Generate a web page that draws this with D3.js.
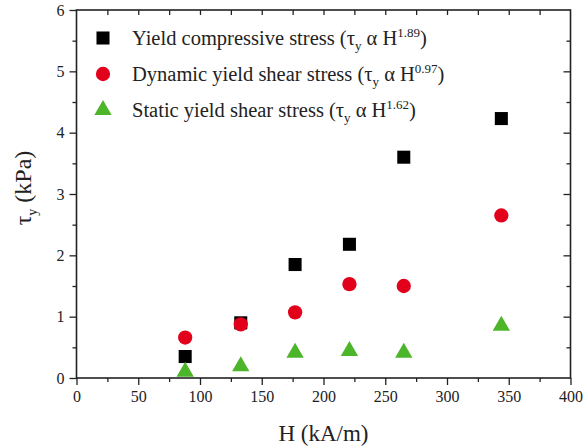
<!DOCTYPE html>
<html>
<head>
<meta charset="utf-8">
<script src="https://cdn.jsdelivr.net/npm/d3@7"></script>
<style>
  body { margin: 0; background: #fff; }
  svg { display: block; font-family: "Liberation Serif", "Times New Roman", serif; }
</style>
</head>
<body>
<svg id="chart"></svg>
<script>
const width = 583;
const height = 448;

// data
const fieldH = [88, 133, 177, 221, 265, 344];
const compressive = [0.35, 0.90, 1.85, 2.18, 3.60, 4.23];
const dynamicShear = [0.66, 0.875, 1.07, 1.53, 1.50, 2.65];
const staticShear = [0.10, 0.19, 0.41, 0.44, 0.41, 0.85];

const seriesNames = ["Yield compressive stress", "Dynamic yield shear stress", "Static yield shear stress"];
const exponents = ["1.89", "0.97", "1.62"];
const colors = ["#000000", "#e2001a", "#4cb52a"];
const xTicks = [0, 50, 100, 150, 200, 250, 300, 350, 400];
const yTicks = [0, 1, 2, 3, 4, 5, 6];

const margin = {top: 10, right: 12.5, bottom: 70, left: 76.5};

const x = d3.scaleLinear([0, 400], [margin.left, width - margin.right]);
const y = d3.scaleLinear([0, 6], [height - margin.bottom, margin.top]);

const svg = d3.select("#chart")
  .attr("width", width)
  .attr("height", height)
  .attr("viewBox", [0, 0, width, height]);

const axisColor = "#222";
const serif = "'Liberation Serif', 'Times New Roman', serif";

// minor ticks first, then major with labels
function styleAxis(g) {
  g.attr("font-family", serif);
  g.select(".domain").remove();
  g.selectAll("line").attr("stroke", axisColor).attr("stroke-width", 1.3);
  g.selectAll("text").attr("fill", "#222").attr("font-size", 16);
}

// bottom axis (outward)
svg.append("g")
  .attr("transform", `translate(0,${y(0)})`)
  .call(d3.axisBottom(x).tickValues(d3.range(25, 400, 50)).tickSize(4).tickFormat(""))
  .call(styleAxis);
svg.append("g")
  .attr("transform", `translate(0,${y(0)})`)
  .call(d3.axisBottom(x).tickValues(xTicks).tickSize(7).tickPadding(6).tickFormat(d3.format("d")))
  .call(styleAxis);

// top axis (inward)
svg.append("g")
  .attr("transform", `translate(0,${y(6)})`)
  .call(d3.axisBottom(x).tickValues(d3.range(25, 400, 25)).tickSize(5).tickFormat(""))
  .call(styleAxis);

// left axis (outward)
svg.append("g")
  .attr("transform", `translate(${x(0)},0)`)
  .call(d3.axisLeft(y).tickValues(d3.range(0.5, 6, 1)).tickSize(4).tickFormat(""))
  .call(styleAxis);
svg.append("g")
  .attr("transform", `translate(${x(0)},0)`)
  .call(d3.axisLeft(y).tickValues(yTicks).tickSize(7).tickPadding(5).tickFormat(d3.format("d")))
  .call(styleAxis);

// right axis (inward)
svg.append("g")
  .attr("transform", `translate(${x(400)},0)`)
  .call(d3.axisLeft(y).tickValues(d3.range(0.5, 6, 1)).tickSize(4).tickFormat(""))
  .call(styleAxis);
svg.append("g")
  .attr("transform", `translate(${x(400)},0)`)
  .call(d3.axisLeft(y).tickValues(yTicks.slice(1, 6)).tickSize(7).tickFormat(""))
  .call(styleAxis);

// frame
svg.append("rect")
  .attr("x", x(0))
  .attr("y", y(6))
  .attr("width", x(400) - x(0))
  .attr("height", y(0) - y(6))
  .attr("fill", "none")
  .attr("stroke", axisColor)
  .attr("stroke-width", 1.6);

// markers
const symbols = [
  d3.symbol(d3.symbolSquare, 170),
  d3.symbol(d3.symbolCircle, 160),
  d3.symbol(d3.symbolTriangle, 130)
];
const allSeries = [compressive, dynamicShear, staticShear];

allSeries.forEach((vals, i) => {
  svg.append("g")
    .selectAll("path")
    .data(vals)
    .join("path")
    .attr("transform", (d, j) => `translate(${x(fieldH[j])},${y(d)})`)
    .attr("d", symbols[i])
    .attr("fill", colors[i]);
});

// legend
const legend = svg.append("g");
const rowsY = [38, 74, 110];
seriesNames.forEach((name, i) => {
  legend.append("path")
    .attr("transform", `translate(103,${rowsY[i]})`)
    .attr("d", symbols[i])
    .attr("fill", colors[i]);
  const t = legend.append("text")
    .attr("x", 132)
    .attr("y", rowsY[i] + 7)
    .attr("font-size", 20.5)
    .attr("fill", "#222");
  t.append("tspan").text(`${name} (τ`);
  t.append("tspan").attr("font-size", 13).attr("dy", 5).text("y");
  t.append("tspan").attr("dy", -5).text(" α H");
  t.append("tspan").attr("font-size", 13).attr("dy", -8).text(exponents[i]);
  t.append("tspan").attr("dy", 8).text(")");
});

// axis titles
svg.append("text")
  .attr("x", (x(0) + x(400)) / 2)
  .attr("y", 441)
  .attr("text-anchor", "middle")
  .attr("font-size", 23)
  .attr("fill", "#222")
  .text("H (kA/m)");

const yt = svg.append("text")
  .attr("transform", `translate(31,188) rotate(-90)`)
  .attr("text-anchor", "middle")
  .attr("font-size", 24)
  .attr("fill", "#222");
yt.append("tspan").text("τ");
yt.append("tspan").attr("font-size", 14).attr("dy", 6).text("y");
yt.append("tspan").attr("dy", -6).text(" (kPa)");
</script>
</body>
</html>
